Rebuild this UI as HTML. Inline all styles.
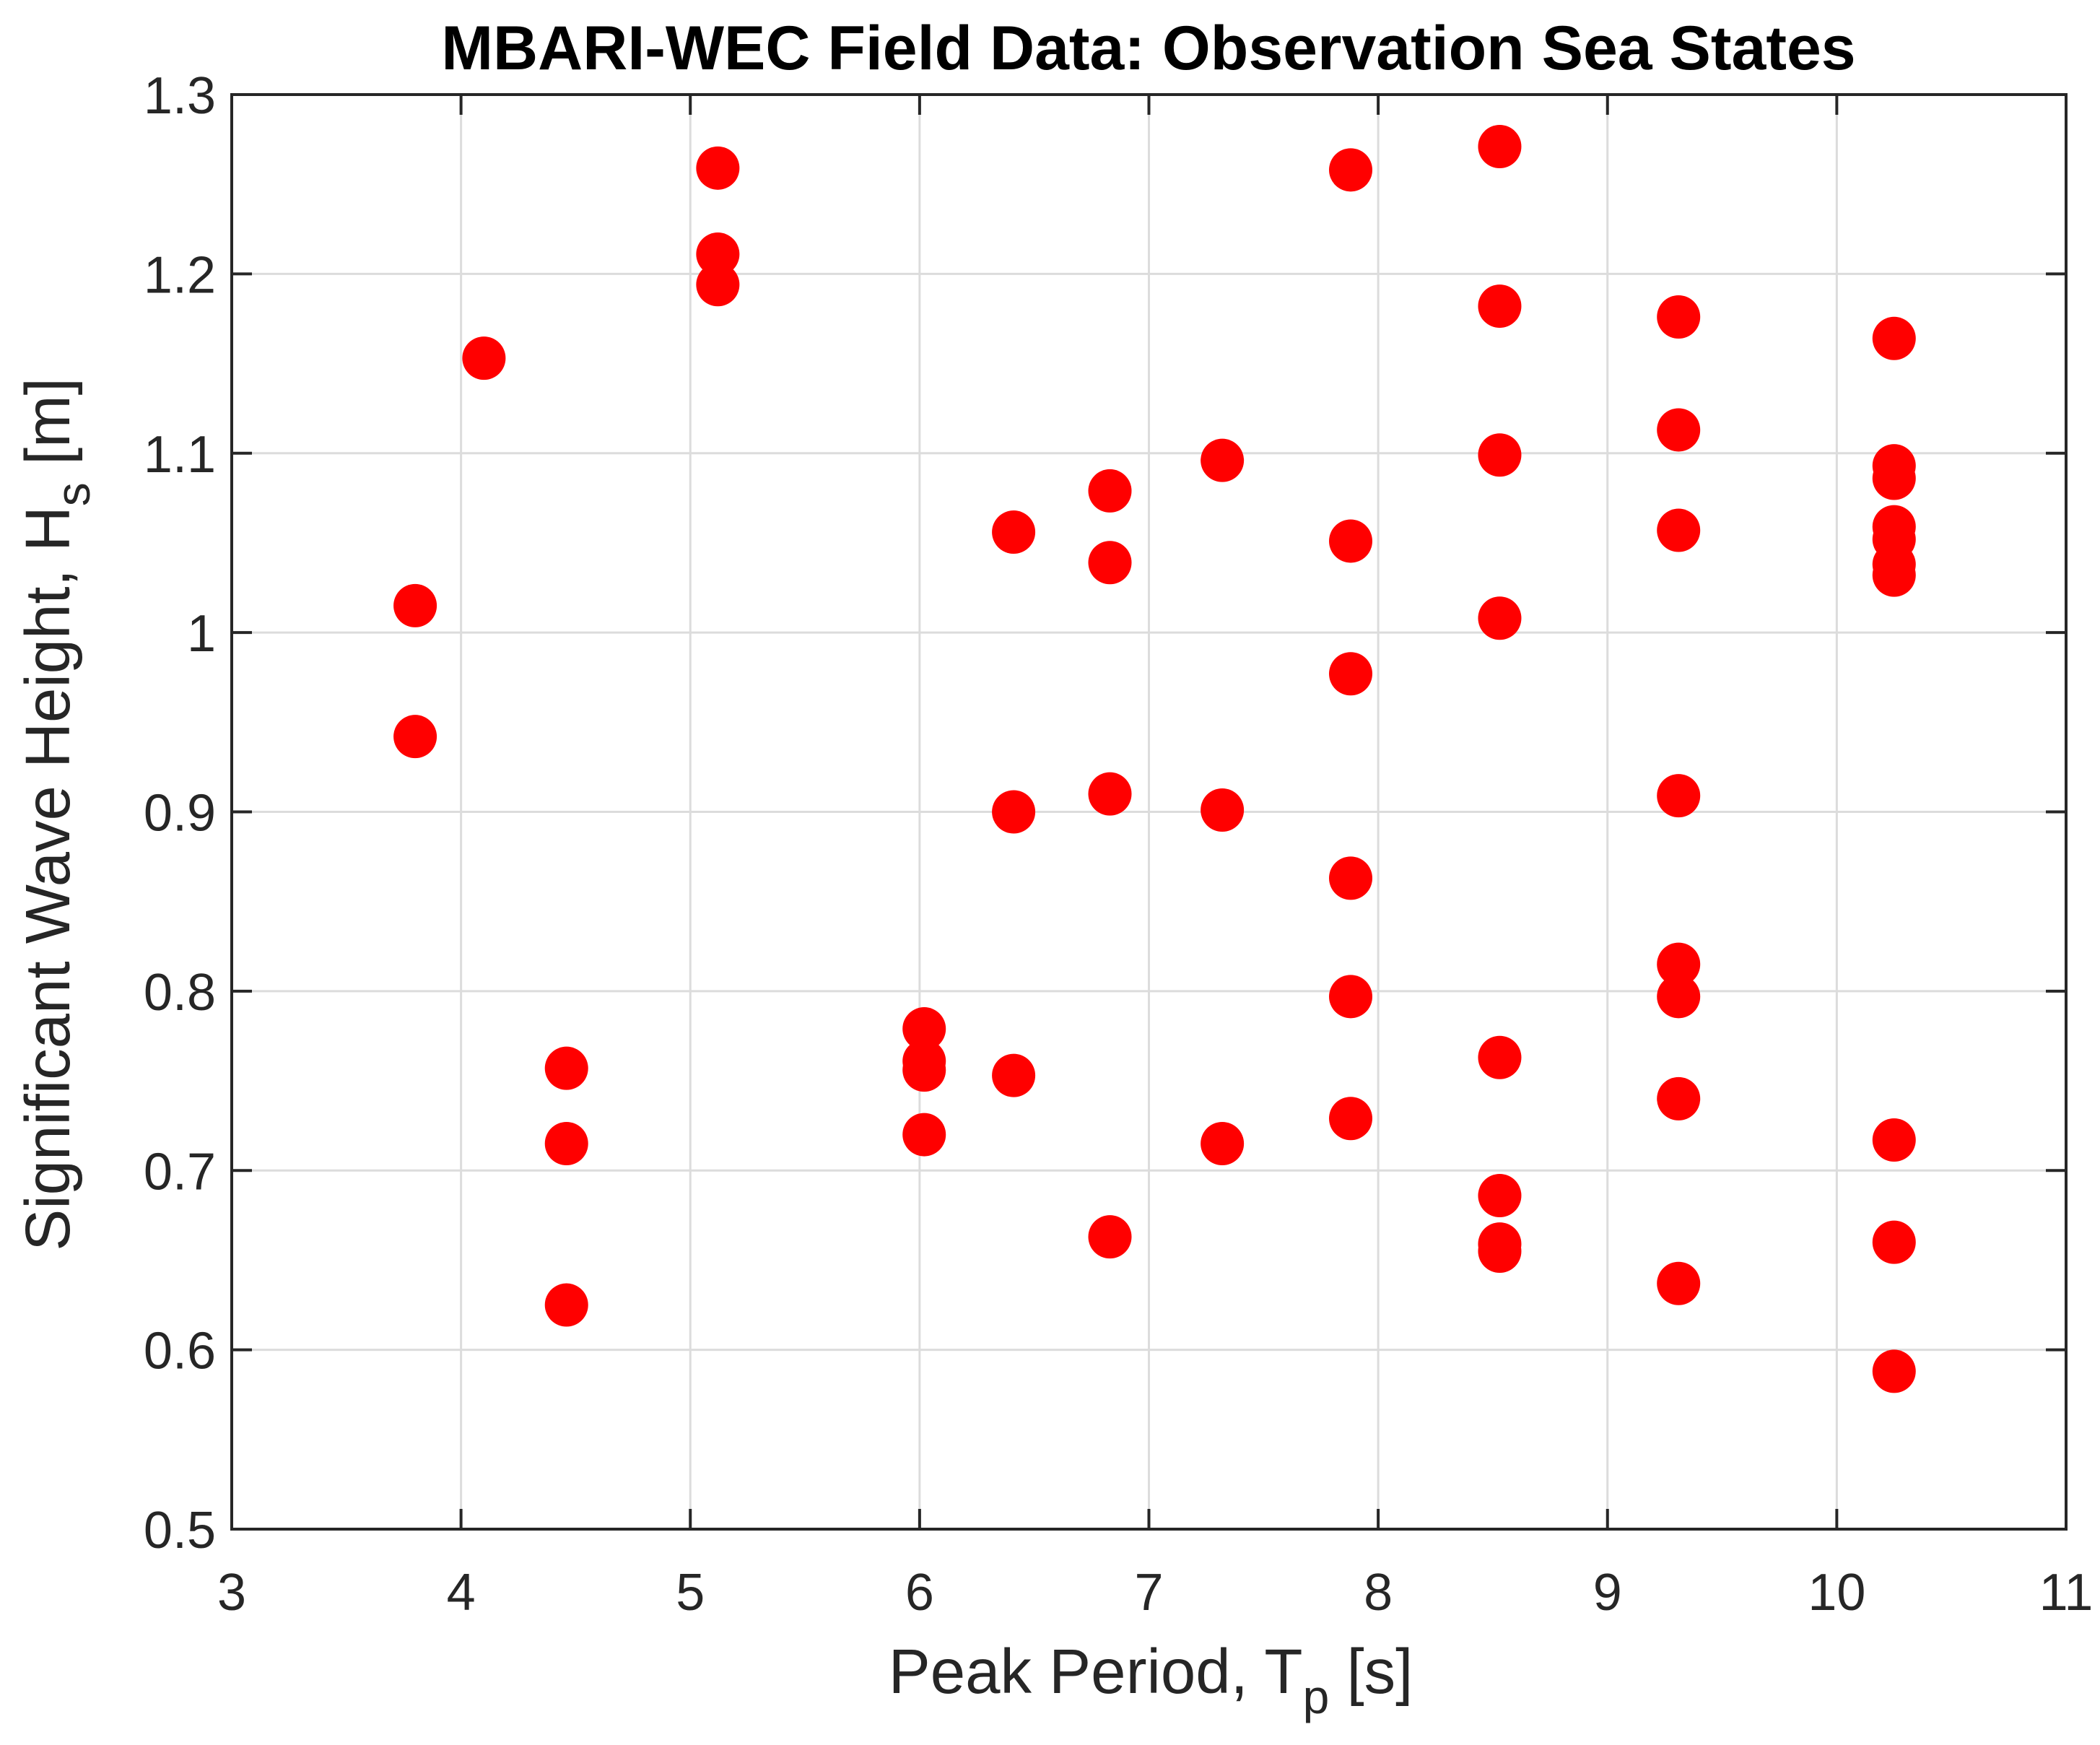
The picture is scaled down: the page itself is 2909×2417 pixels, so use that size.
<!DOCTYPE html>
<html><head><meta charset="utf-8"><style>
html,body{margin:0;padding:0;background:#fff;}
svg{display:block;font-family:"Liberation Sans",sans-serif;}
</style></head><body>
<svg id="chart" width="2909" height="2417" viewBox="0 0 2909 2417" xmlns="http://www.w3.org/2000/svg">
<rect width="2909" height="2417" fill="#fff"/>
<g id="grid"></g>
<g id="marks"></g>
<g id="axes"></g>
<text x="1591" y="96" text-anchor="middle" font-weight="bold" font-size="86" fill="#000">MBARI-WEC Field Data: Observation Sea States</text>
<text x="1594" y="2345" text-anchor="middle" font-size="87" fill="#262626">Peak Period, T<tspan font-size="66" dy="28">p</tspan><tspan dy="-28"> [s]</tspan></text>
<text transform="translate(96,1128) rotate(-90)" text-anchor="middle" font-size="87" fill="#262626">Significant Wave Height, H<tspan font-size="66" dy="28">s</tspan><tspan dy="-28"> [m]</tspan></text>
</svg>
<script>
const xTicks=[3,4,5,6,7,8,9,10,11];
const yTicks=[0.5,0.6,0.7,0.8,0.9,1,1.1,1.2,1.3];
const yTickLabels=["0.5","0.6","0.7","0.8","0.9","1","1.1","1.2","1.3"];
const periods=[3.8,3.8,4.1,4.46,4.46,4.46,5.12,5.12,5.12,6.02,6.02,6.02,6.02,6.41,6.41,6.41,6.83,6.83,6.83,6.83,7.32,7.32,7.32,7.88,7.88,7.88,7.88,7.88,7.88,8.53,8.53,8.53,8.53,8.53,8.53,8.53,8.53,9.31,9.31,9.31,9.31,9.31,9.31,9.31,9.31,10.25,10.25,10.25,10.25,10.25,10.25,10.25,10.25,10.25,10.25];
const heights=[1.015,0.942,1.153,0.757,0.715,0.625,1.259,1.211,1.194,0.779,0.761,0.756,0.720,1.056,0.900,0.753,1.079,1.039,0.910,0.663,1.096,0.901,0.715,1.258,1.051,0.977,0.863,0.797,0.729,1.271,1.182,1.099,1.008,0.763,0.686,0.659,0.655,1.176,1.113,1.057,0.909,0.815,0.797,0.740,0.637,1.164,1.093,1.086,1.059,1.052,1.038,1.032,0.717,0.660,0.588];
const L=321,R=2862,T=131,B=2118;
const xs=v=>L+(v-3)/8*(R-L);
const ys=v=>B-(v-0.5)/0.8*(B-T);
const NS="http://www.w3.org/2000/svg";
function mk(tag,attrs,parent){const e=document.createElementNS(NS,tag);for(const k in attrs)e.setAttribute(k,attrs[k]);parent.appendChild(e);return e;}
const grid=document.getElementById('grid'),marks=document.getElementById('marks'),axes=document.getElementById('axes');
xTicks.forEach((t,i)=>{
  const x=xs(t);
  if(i>0&&i<xTicks.length-1){const g=mk('line',{x1:x,x2:x,y1:T,y2:B,stroke:'#dcdcdc','stroke-width':3},grid);
  
  }
  const a=mk('line',{x1:x,x2:x,y1:B,y2:B-28,stroke:'#262626','stroke-width':4},axes);
  
  
  const b=mk('line',{x1:x,x2:x,y1:T,y2:T+28,stroke:'#262626','stroke-width':4},axes);
  
  
  const tx=mk('text',{x:x,y:2230,'text-anchor':'middle','font-size':72,fill:'#262626'},axes);
  tx.textContent=String(t);
  
  
});
yTicks.forEach((t,i)=>{
  const y=ys(t);
  if(i>0&&i<yTicks.length-1){const g=mk('line',{x1:L,x2:R,y1:y,y2:y,stroke:'#dcdcdc','stroke-width':3},grid);
  
  }
  const a=mk('line',{x1:L,x2:L+28,y1:y,y2:y,stroke:'#262626','stroke-width':4},axes);
  
  
  const b=mk('line',{x1:R,x2:R-28,y1:y,y2:y,stroke:'#262626','stroke-width':4},axes);
  
  
  const tx=mk('text',{x:L-22,y:y+26,'text-anchor':'end','font-size':72,fill:'#262626'},axes);
  tx.textContent=yTickLabels[i];
  
  
});
const box=mk('rect',{x:L,y:T,width:R-L,height:B-T,fill:'none',stroke:'#262626','stroke-width':4},axes);


periods.forEach((p,i)=>{
  const c=mk('circle',{cx:xs(p),cy:ys(heights[i]),r:30,fill:'#ff0000'},marks);
  
  
});
</script>
</body></html>
